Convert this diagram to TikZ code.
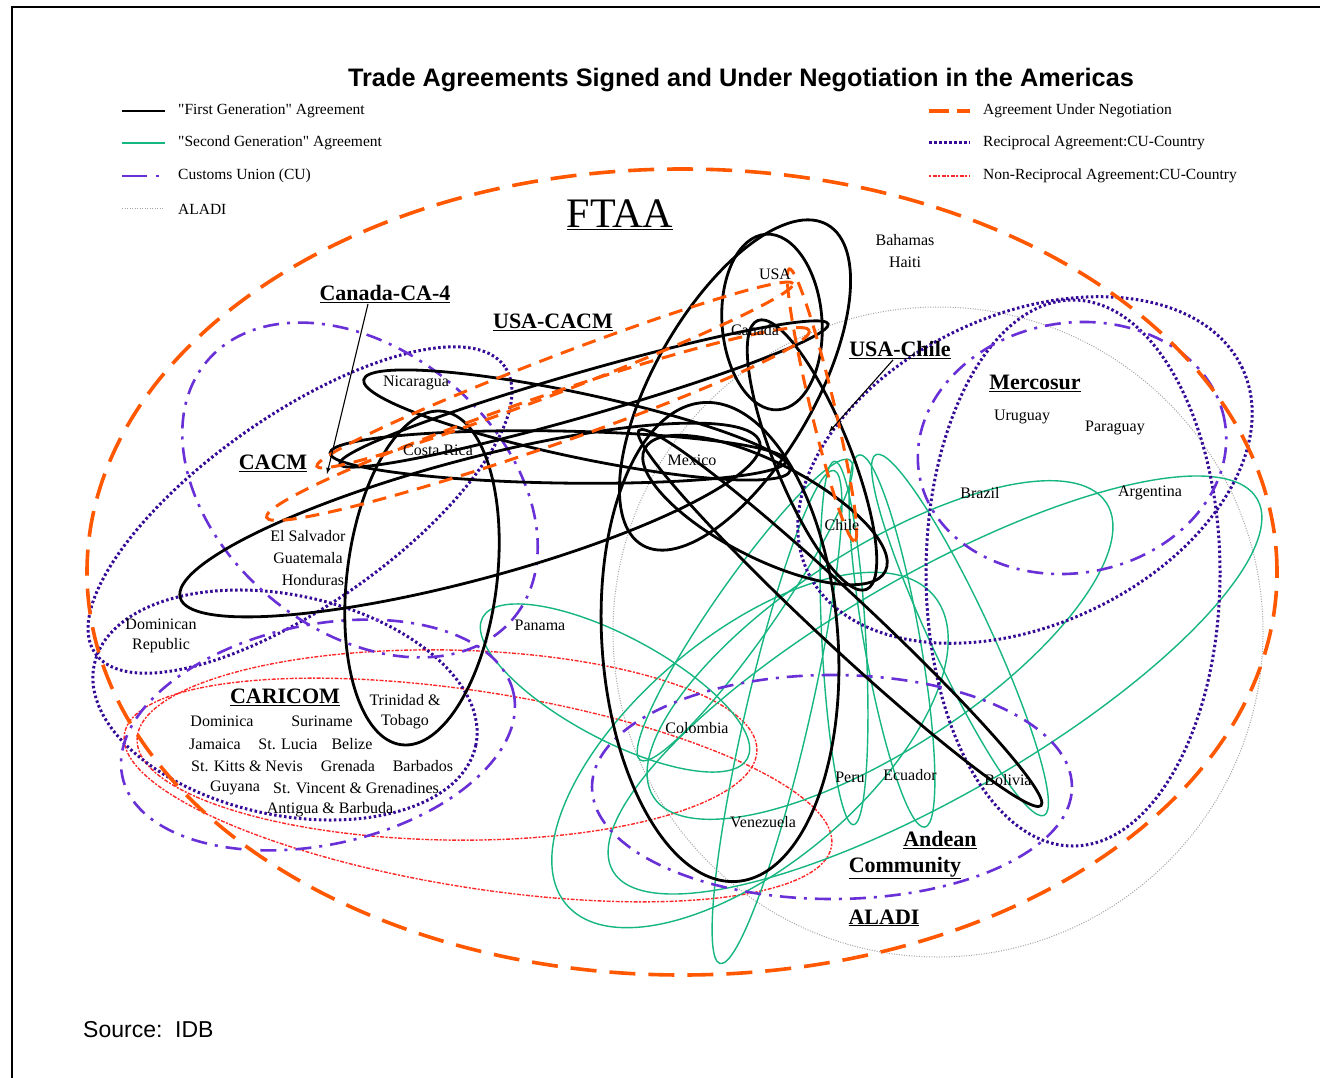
\documentclass[tikz,border=0pt]{standalone}
\usepackage{fontspec}
\setmainfont{Liberation Serif}
\newfontfamily\titlefont{Liberation Sans}
\usetikzlibrary{positioning}
\definecolor{ftaaorange}{RGB}{255,88,0}
\definecolor{gengreen}{RGB}{22,182,128}
\definecolor{cupurple}{RGB}{104,48,214}
\definecolor{recpurple}{RGB}{52,10,150}
\definecolor{nonred}{RGB}{255,40,40}
\definecolor{aladigrey}{RGB}{165,165,165}
\tikzset{
  firstgen/.style={line width=2.8pt, black},
  secondgen/.style={line width=1.4pt, gengreen},
  custunion/.style={line width=2.6pt, cupurple, dash pattern=on 16pt off 8pt on 3pt off 8pt},
  aladiline/.style={line width=1pt, aladigrey, dash pattern=on 1pt off 1.5pt},
  negotiation/.style={line width=3.6pt, ftaaorange, dash pattern=on 26pt off 13pt},
  reciprocal/.style={line width=3pt, recpurple, dash pattern=on 2.5pt off 2.5pt},
  nonrecip/.style={line width=1.4pt, nonred, dash pattern=on 2pt off 1.5pt on 4pt off 1.5pt},
  country/.style={font=\fontsize{16}{18}\selectfont, inner sep=1pt},
  group/.style={font=\fontsize{22}{24}\selectfont\bfseries, inner sep=1pt},
  legend/.style={font=\fontsize{15.5}{17}\selectfont, anchor=west, inner sep=0pt},
}
\begin{document}
\begin{tikzpicture}[x=1pt, y=-1pt]
\useasboundingbox (0,0) rectangle (1320,1078);
\fill[white] (0,0) rectangle (1320,1078);
\draw[line width=2pt] (12,1078) -- (12,7) -- (1320,7);

% title and legend
\node[font=\titlefont\fontsize{25.3}{28}\selectfont\bfseries] (title) at (741,80) {Trade Agreements Signed and Under Negotiation in the Americas};
\node[legend] (lfirst) at (178,111) {\textquotedbl First Generation\textquotedbl{} Agreement};
\node[legend] (lsecond) at ([yshift=-32pt]lfirst.west) {\textquotedbl Second Generation\textquotedbl{} Agreement};
\node[legend] (lcu) at ([yshift=-33pt]lsecond.west) {Customs Union (CU)};
\node[legend] (laladi) at ([yshift=-33pt]lcu.west) {ALADI};
\node[legend] (lnego) at (983,111) {Agreement Under Negotiation};
\node[legend] (lrecip) at ([yshift=-32pt]lnego.west) {Reciprocal Agreement:CU-Country};
\node[legend] (lnonrecip) at ([yshift=-33pt]lrecip.west) {Non-Reciprocal Agreement:CU-Country};
\draw[firstgen] ([xshift=-56pt]lfirst.west) -- ([xshift=-13pt]lfirst.west);
\draw[secondgen] ([xshift=-56pt]lsecond.west) -- ([xshift=-13pt]lsecond.west);
\draw[custunion, dash pattern=on 25pt off 9pt on 3pt off 20pt] ([xshift=-56pt]lcu.west) -- ([xshift=-19pt]lcu.west);
\draw[aladiline] ([xshift=-56pt]laladi.west) -- ([xshift=-15pt]laladi.west);
\draw[negotiation, dash pattern=on 20pt off 8pt on 13pt off 20pt] ([xshift=-54pt]lnego.west) -- ([xshift=-13pt]lnego.west);
\draw[reciprocal] ([xshift=-54pt]lrecip.west) -- ([xshift=-13pt]lrecip.west);
\draw[nonrecip] ([xshift=-54pt]lnonrecip.west) -- ([xshift=-13pt]lnonrecip.west);

% ALADI
\draw[aladiline] (938,632) circle [radius=325pt];
% non-reciprocal CU-country
\draw[nonrecip, rotate around={-1:(447,745)}] (447,745) ellipse [x radius=310pt, y radius=95pt];
\draw[nonrecip, rotate around={-9:(478,790)}] (478,790) ellipse [x radius=358pt, y radius=98pt];
% second generation
\draw[secondgen, rotate around={-28:(615,688)}] (615,688) ellipse [x radius=150pt, y radius=52pt];
\draw[secondgen, rotate around={33:(880,650)}] (880,650) ellipse [x radius=270pt, y radius=100pt];
\draw[secondgen, rotate around={30:(935,685)}] (935,685) ellipse [x radius=372pt, y radius=110pt];
\draw[secondgen, rotate around={93:(844,643)}] (844,643) ellipse [x radius=182pt, y radius=22pt];
\draw[secondgen, rotate around={100:(892,641)}] (892,641) ellipse [x radius=189pt, y radius=28pt];
\draw[secondgen, rotate around={115:(960,635)}] (960,635) ellipse [x radius=199pt, y radius=30pt];
\draw[secondgen, rotate around={55:(745,610)}] (745,610) ellipse [x radius=183pt, y radius=30pt];
\draw[secondgen, rotate around={77:(777,717)}] (777,717) ellipse [x radius=253pt, y radius=32pt];
\draw[secondgen, rotate around={40:(750,750)}] (750,750) ellipse [x radius=240pt, y radius=115pt];
% reciprocal CU-country
\draw[reciprocal, rotate around={25:(1025,470)}] (1025,470) ellipse [x radius=240pt, y radius=155pt];
\draw[reciprocal] (1073,573) ellipse [x radius=147pt, y radius=273pt];
\draw[reciprocal, rotate around={35:(300,510)}] (300,510) ellipse [x radius=250pt, y radius=95pt];
\draw[reciprocal, rotate around={-12:(285,705)}] (285,705) ellipse [x radius=195pt, y radius=110pt];
% customs unions
\draw[custunion, rotate around={-40:(360,490)}] (360,490) ellipse [x radius=200pt, y radius=140pt];
\draw[custunion, rotate around={12:(318,735)}] (318,735) ellipse [x radius=200pt, y radius=110pt];
\draw[custunion, rotate around={10:(1072,448)}] (1072,448) ellipse [x radius=155pt, y radius=125pt];
\draw[custunion] (832,787) ellipse [x radius=240pt, y radius=112pt];
% first generation
\draw[firstgen, rotate around={4:(772,322)}] (772,322) ellipse [x radius=50pt, y radius=88pt];
\draw[firstgen, rotate around={60:(735,385)}] (735,385) ellipse [x radius=185pt, y radius=80pt];
\draw[firstgen, rotate around={4:(720,642)}] (720,642) ellipse [x radius=118pt, y radius=240pt];
\draw[firstgen, rotate around={-43:(840,618)}] (840,618) ellipse [x radius=275pt, y radius=26pt];
\draw[firstgen, rotate around={-27:(765,510)}] (765,510) ellipse [x radius=135pt, y radius=48pt];
\draw[firstgen, rotate around={-68:(812,455)}] (812,455) ellipse [x radius=145pt, y radius=38pt];
\draw[firstgen, rotate around={-12:(577,425)}] (577,425) ellipse [x radius=218pt, y radius=32pt];
\draw[firstgen, rotate around={-1:(558,457)}] (558,457) ellipse [x radius=228pt, y radius=26pt];
\draw[firstgen, rotate around={16:(584,394)}] (584,394) ellipse [x radius=254pt, y radius=22pt];
\draw[firstgen, rotate around={15:(470,520)}] (470,520) ellipse [x radius=300pt, y radius=60pt];
\draw[firstgen, rotate around={83:(422,578)}] (422,578) ellipse [x radius=168pt, y radius=75pt];
% under negotiation
\draw[negotiation] (682,572) ellipse [x radius=595pt, y radius=403pt];
\draw[negotiation, dash pattern=on 14pt off 9pt, line width=3pt, rotate around={21:(555,375)}] (555,375) ellipse [x radius=255pt, y radius=18pt];
\draw[negotiation, dash pattern=on 14pt off 9pt, line width=3pt, rotate around={19:(538,424)}] (538,424) ellipse [x radius=287pt, y radius=25pt];
\draw[negotiation, dash pattern=on 14pt off 9pt, line width=3pt, rotate around={-76.5:(822,405)}] (822,405) ellipse [x radius=140pt, y radius=12pt];

% group labels
\node[font=\fontsize{42}{44}\selectfont, inner sep=1pt] (ftaa) at (620,215) {\underline{FTAA}};
\node[group] (canadaca4) at (385,294) {\underline{Canada-CA-4}};
\node[group] (usacacm) at (553,322) {\underline{USA-CACM}};
\node[group] (usachile) at (900,350) {\underline{USA-Chile}};
\node[group] (cacm) at (273,463) {\underline{CACM}};
\node[group] (mercosur) at (1035,383) {\underline{Mercosur}};
\node[group] (caricom) at (285,697) {\underline{CARICOM}};
\node[group] (andean) at (940,840) {\underline{Andean}};
\node[group] (community) at (905,868) {\underline{Community}};
\node[group] (aladi) at (884,918) {\underline{ALADI}};
\coordinate (cacmtip) at (327,474);
\coordinate (chiletip) at (829,432);
\draw[-latex, line width=1.1pt] ([xshift=-17pt]canadaca4.south) -- (cacmtip);
\draw[-latex, line width=1.1pt] ([xshift=-7pt]usachile.south) -- (chiletip);

% countries
\node[country] (usa) at (775,274) {USA};
\node[country] (canada) at (755,330) {Canada};
\node[country] (bahamas) at (905,240) {Bahamas};
\node[country, below of=bahamas, node distance=22pt] (haiti) {Haiti};
\node[country] (nicaragua) at (416,383) {Nicaragua};
\node[country] (costarica) at (438,450) {Costa Rica};
\node[country] (mexico) at (692,460) {Mexico};
\node[country] (chile) at (842,525) {Chile};
\node[country] (elsalvador) at (308,536) {El Salvador};
\node[country, below of=elsalvador, node distance=22pt] (guatemala) {Guatemala};
\node[country] (honduras) at (313,580) {Honduras};
\node[country] (dominican) at (161,624) {Dominican};
\node[country, below of=dominican, node distance=22pt] (republic) {Republic};
\node[country] (panama) at (540,625) {Panama};
\node[country] (uruguay) at (1022,417) {Uruguay};
\node[country] (paraguay) at (1115,428) {Paraguay};
\node[country] (brazil) at (980,493) {Brazil};
\node[country] (argentina) at (1150,493) {Argentina};
\node[country] (trinidad) at (405,700) {Trinidad \&};
\node[country, below of=trinidad, node distance=22pt] (tobago) {Tobago};
\node[country] (dominica) at (222,721) {Dominica};
\node[country] (suriname) at (322,721) {Suriname};
\node[country] (jamaica) at (215,744) {Jamaica};
\node[country] (stlucia) at (288,744) {St. Lucia};
\node[country] (belize) at (352,744) {Belize};
\node[country] (stkitts) at (247,766) {St. Kitts \& Nevis};
\node[country] (grenada) at (348,766) {Grenada};
\node[country] (barbados) at (423,766) {Barbados};
\node[country] (guyana) at (235,788) {Guyana};
\node[country] (stvincent) at (356,788) {St. Vincent \& Grenadines};
\node[country] (antigua) at (330,810) {Antigua \& Barbuda};
\node[country] (colombia) at (697,728) {Colombia};
\node[country] (peru) at (850,777) {Peru};
\node[country] (ecuador) at (910,775) {Ecuador};
\node[country] (bolivia) at (1008,780) {Bolivia};
\node[country] (venezuela) at (763,822) {Venezuela};

\node[font=\titlefont\fontsize{23}{25}\selectfont, anchor=west, inner sep=0pt] (source) at (83,1030) {Source:\ \ IDB};
\end{tikzpicture}
\end{document}
